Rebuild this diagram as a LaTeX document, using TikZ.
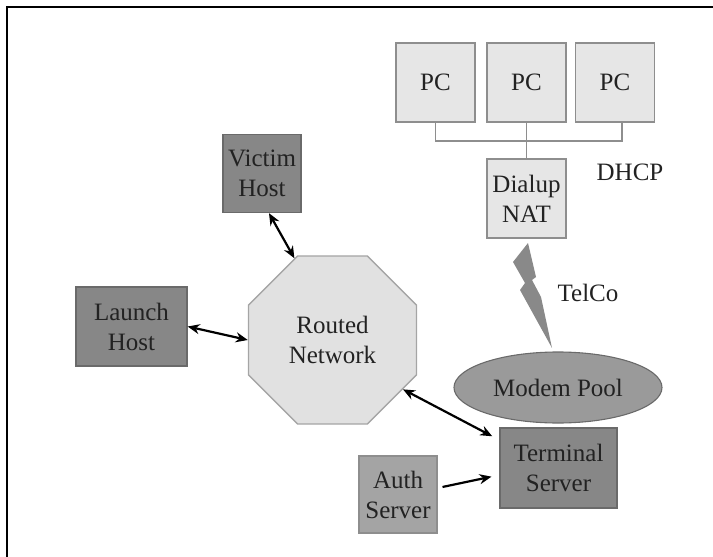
\documentclass[tikz,border=0pt]{standalone}
\usepackage{fontspec}
\setmainfont{Liberation Serif}
\usepackage{xcolor}
\usetikzlibrary{shapes,arrows.meta,positioning}

\definecolor{boxlight}{HTML}{E6E6E6}
\definecolor{edgelight}{HTML}{8E8E8E}
\definecolor{boxdark}{HTML}{878787}
\definecolor{edgedark}{HTML}{6A6A6A}
\definecolor{boxmid}{HTML}{A4A4A4}
\definecolor{poolfill}{HTML}{9A9A9A}
\definecolor{boltfill}{HTML}{898989}
\definecolor{inktext}{HTML}{222222}

\begin{document}
\begin{tikzpicture}[x=1pt,y=-1pt,
  every node/.style={font=\fontsize{25}{30}\selectfont,text=inktext,align=center,inner sep=0pt},
  pc/.style={rectangle,draw=edgelight,fill=boxlight,line width=1.3pt,minimum width=79pt,minimum height=79pt},
  host/.style={rectangle,draw=edgedark,fill=boxdark,line width=1.3pt,minimum width=78pt,minimum height=78pt},
  auth/.style={rectangle,draw=edgelight,fill=boxmid,line width=1.3pt,minimum width=78pt,minimum height=77pt},
  router/.style={regular polygon,regular polygon sides=8,draw=edgelight!80,fill=boxlight!98!black,line width=1.3pt,minimum size=182pt},
  pool/.style={ellipse,draw=edgedark,fill=poolfill,line width=1.1pt,minimum width=208pt,minimum height=71pt},
  bus/.style={draw=edgelight,line width=1.5pt},
  arr/.style={{Stealth[length=12pt,width=10pt]}-{Stealth[length=12pt,width=10pt]},line width=2.2pt},
  oneway/.style={-{Stealth[length=12pt,width=10pt]},line width=2.2pt}]
\useasboundingbox (0,0) rectangle (713,557);
% frame
\draw[line width=2pt] (6.5,557) -- (6.5,7) -- (713,7);
% dialup side
\node[pc] (pc1) at (435.5,82.5) {PC};
\node[pc] (pc2) at (526.5,82.5) {PC};
\node[pc] (pc3) at (615,82.5) {PC};
\node[pc] (nat) at (526.5,198.5) {Dialup\\NAT};
\coordinate (tap) at (526.5,141);
\draw[bus] (pc1.south) |- (tap) -| ([xshift=7pt]pc3.south);
\draw[bus] (pc2.south) -- (nat.north);
\node (dhcp) at (630,172) {DHCP};
% telco line
\fill[boltfill] (528,243) -- (536,277) -- (532,280) -- (541,297) -- (552,348)
  -- (520,290) -- (525,283) -- (513,262) -- cycle;
\node (telco) at (588,293) {TelCo};
\node[pool] (pool) at (558,387.5) {Modem Pool};
\node[host,minimum width=117pt,minimum height=80pt] (ts) at (558.5,468) {Terminal\\Server};
\node[auth] (as) at (398,494.5) {Auth\\Server};
% routed side
\node[router] (rn) at (332.5,340) {Routed\\Network};
\node[host] (vic) at (262,173.5) {Victim\\Host};
\node[host,minimum width=111pt,minimum height=79pt] (lh) at (131.5,326.5) {Launch\\Host};
\draw[arr] (vic.-80) -- (rn.115);
\draw[arr] (lh.east) -- (rn.west);
\draw[arr,shorten >=8pt] (rn.-35) -- ([yshift=28pt]ts.west);
\draw[oneway,shorten <=5pt,shorten >=8pt] ([yshift=6.5pt]as.east) -- ([yshift=-7pt]ts.west);
\end{tikzpicture}
\end{document}
